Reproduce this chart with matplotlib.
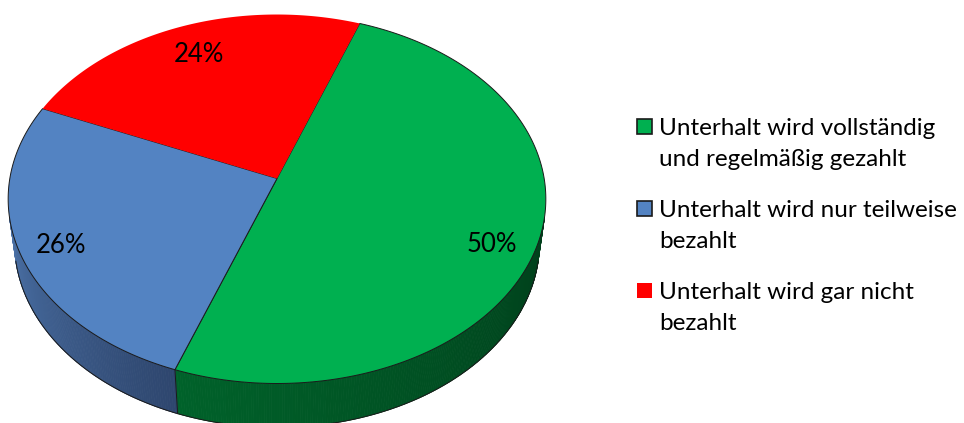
import numpy as np
import matplotlib
matplotlib.use("Agg")
import matplotlib.pyplot as plt
from matplotlib.patches import Polygon, Rectangle

# Anteile der drei Gruppen (in %)
labels = ["Unterhalt wird vollständig\nund regelmäßig gezahlt",
          "Unterhalt wird nur teilweise\nbezahlt",
          "Unterhalt wird gar nicht\nbezahlt"]
shares = [50, 26, 24]
top_colors = ["#00b050", "#5383c2", "#ff0000"]
side_dark = ["#003f1b", "#2e466e", "#800000"]
side_light = ["#00622a", "#4a70a5", "#b00000"]
key_edges = ["#1a1a1a", "#1a1a1a", "none"]
# Verschiebung der Prozentwerte (Pixel)
label_shift = [(8, 15), (-12, 7), (0, 0)]

plt.rcParams["font.family"] = ["Lato", "DejaVu Sans"]

# perspektivische Projektion der Torte
cx, cy = 277, 178.5
k = 1758.0
D = 6.58
phi = np.radians(43)
c, s = np.cos(phi), np.sin(phi)
h = 0.23
start = 20.0


def proj(theta, r=1.0, z=0.0):
    t = np.radians(theta)
    X = r * np.sin(t)
    Y = r * np.cos(t)
    depth = Y * c - z * s + D
    vert = Y * s + z * c
    return cx + k * X / depth, cy - k * vert / depth


fig = plt.figure(figsize=(9.64, 4.23), dpi=100)
ax = fig.add_axes([0, 0, 1, 1])
ax.set_xlim(0, 964)
ax.set_ylim(423, 0)
ax.axis("off")

bounds = start + np.concatenate([[0], np.cumsum(shares)]) * 3.6
vis = np.degrees(np.arccos(-1 / (D * c)))
vis0, vis1 = vis, 360 - vis

# Seitenwand mit Farbverlauf
for i in range(len(shares)):
    a0, a1 = max(bounds[i], vis0), min(bounds[i + 1], vis1)
    if a1 <= a0:
        continue
    steps = np.arange(a0, a1 + 0.01, 0.5)
    steps[-1] = a1
    dark = np.array(matplotlib.colors.to_rgb(side_dark[i]))
    light = np.array(matplotlib.colors.to_rgb(side_light[i]))
    for j in range(len(steps) - 1):
        t0, t1 = steps[j], steps[j + 1]
        f = (0.5 * (t0 + t1) - a0) / (a1 - a0)
        col = dark + (light - dark) * f
        pts = [proj(t0), proj(t1), proj(t1, z=-h), proj(t0, z=-h)]
        ax.add_patch(Polygon(pts, closed=True, facecolor=col, edgecolor=col, lw=0.6))

# Kanten der Seitenwand
tt = np.linspace(vis0, vis1, 300)
bx, by = proj(tt, z=-h)
ax.plot(bx, by, color="#1a1a1a", lw=0.7)
for b in bounds:
    bb = (b - 360) if b > 360 else b
    if vis0 < bb < vis1:
        x0, y0 = proj(bb)
        x1, y1 = proj(bb, z=-h)
        ax.plot([x0, x1], [y0, y1], color="#1a1a1a", lw=0.7)

# Deckfläche
for i in range(len(shares)):
    tt = np.linspace(bounds[i], bounds[i + 1], 200)
    px, py = proj(tt)
    pts = np.vstack([[cx, cy], np.column_stack([px, py])])
    edge = "#1a1a1a" if key_edges[i] != "none" else "none"
    ax.add_patch(Polygon(pts, closed=True, facecolor=top_colors[i],
                         edgecolor=edge, lw=0.7))

# Prozentwerte
for i in range(len(shares)):
    mid = 0.5 * (bounds[i] + bounds[i + 1])
    lx, ly = proj(mid, r=0.8)
    dx, dy = label_shift[i]
    ax.text(lx + dx, ly + dy, f"{shares[i]}%", fontsize=18.5,
            ha="center", va="center")

# Legende
for i in range(len(labels)):
    base = 135 + i * 82
    ax.add_patch(Rectangle((637, base - 16), 15, 15, facecolor=top_colors[i],
                           edgecolor=key_edges[i], lw=1.2))
    for j, line in enumerate(labels[i].split("\n")):
        ax.text(659, base + j * 31, line, fontsize=17.5, ha="left", va="baseline")

fig.savefig("out.png", dpi=100)
